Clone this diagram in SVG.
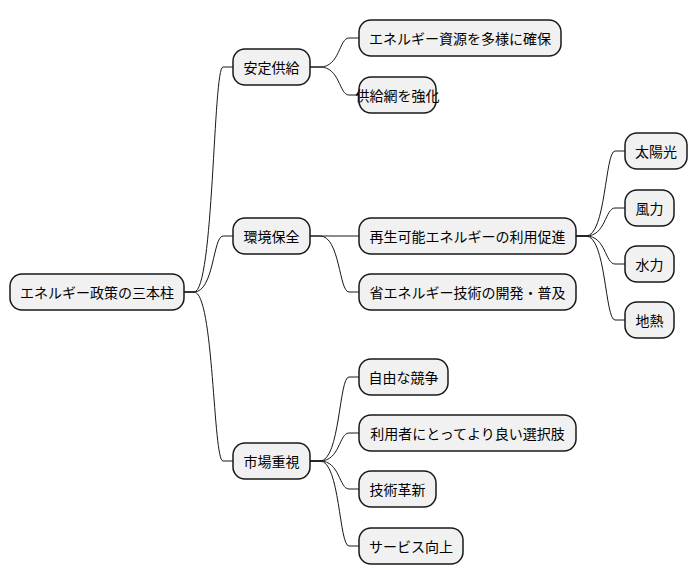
<svg xmlns="http://www.w3.org/2000/svg" width="698" height="583" viewBox="0 0 698 583">
<style>
.n rect{fill:#F1F1F1;stroke:#181818;stroke-width:1.5}
.n text{font-family:"Noto Sans CJK JP",sans-serif;font-size:14px;fill:#000;text-anchor:middle;dominant-baseline:central}
.c path{fill:none;stroke:#181818;stroke-width:1}
</style>
<rect width="698" height="583" fill="#fff"/>
<g class="c">
<path d="M184,292 H194 C214,292 213,67 223,67 H233"/>
<path d="M184,292 H194 C214,292 213,236 223,236 H233"/>
<path d="M184,292 H194 C214,292 213,461 223,461 H233"/>
<path d="M310,67 H320 C340,67 339,38 349,38 H359"/>
<path d="M310,67 H320 C340,67 339,95 349,95 H359"/>
<path d="M310,236 H359"/>
<path d="M310,236 H320 C340,236 339,292 349,292 H359"/>
<path d="M310,461 H320 C340,461 339,377 349,377 H359"/>
<path d="M310,461 H320 C340,461 339,433 349,433 H359"/>
<path d="M310,461 H320 C340,461 339,489 349,489 H359"/>
<path d="M310,461 H320 C340,461 339,546 349,546 H359"/>
<path d="M576,236 H586 C606,236 605,151 615,151 H625"/>
<path d="M576,236 H586 C606,236 605,208 615,208 H625"/>
<path d="M576,236 H586 C606,236 605,264 615,264 H625"/>
<path d="M576,236 H586 C606,236 605,320 615,320 H625"/>
</g>
<g id="root" class="n"><rect x="10" y="274" width="174" height="36" rx="12"/><text x="97" y="292">エネルギー政策の三本柱</text></g>
<g id="a" class="n"><rect x="233" y="49" width="77" height="36" rx="12"/><text x="271.5" y="67">安定供給</text></g>
<g id="b" class="n"><rect x="233" y="218" width="77" height="36" rx="12"/><text x="271.5" y="236">環境保全</text></g>
<g id="c" class="n"><rect x="233" y="443" width="77" height="36" rx="12"/><text x="271.5" y="461">市場重視</text></g>
<g id="a1" class="n"><rect x="359" y="20" width="202" height="36" rx="12"/><text x="460" y="38">エネルギー資源を多様に確保</text></g>
<g id="a2" class="n"><rect x="359" y="77" width="77" height="36" rx="12"/><text x="397.5" y="95">供給網を強化</text></g>
<g id="b1" class="n"><rect x="359" y="218" width="217" height="36" rx="12"/><text x="467.5" y="236">再生可能エネルギーの利用促進</text></g>
<g id="b2" class="n"><rect x="359" y="274" width="217" height="36" rx="12"/><text x="467.5" y="292">省エネルギー技術の開発・普及</text></g>
<g id="c1" class="n"><rect x="359" y="359" width="89" height="36" rx="12"/><text x="403.5" y="377">自由な競争</text></g>
<g id="c2" class="n"><rect x="359" y="415" width="217" height="36" rx="12"/><text x="467.5" y="433">利用者にとってより良い選択肢</text></g>
<g id="c3" class="n"><rect x="359" y="471" width="77" height="36" rx="12"/><text x="397.5" y="489">技術革新</text></g>
<g id="c4" class="n"><rect x="359" y="528" width="104" height="36" rx="12"/><text x="411" y="546">サービス向上</text></g>
<g id="b11" class="n"><rect x="625" y="133" width="62" height="36" rx="12"/><text x="656" y="151">太陽光</text></g>
<g id="b12" class="n"><rect x="625" y="190" width="49" height="36" rx="12"/><text x="649.5" y="208">風力</text></g>
<g id="b13" class="n"><rect x="625" y="246" width="49" height="36" rx="12"/><text x="649.5" y="264">水力</text></g>
<g id="b14" class="n"><rect x="625" y="302" width="49" height="36" rx="12"/><text x="649.5" y="320">地熱</text></g>
</svg>
